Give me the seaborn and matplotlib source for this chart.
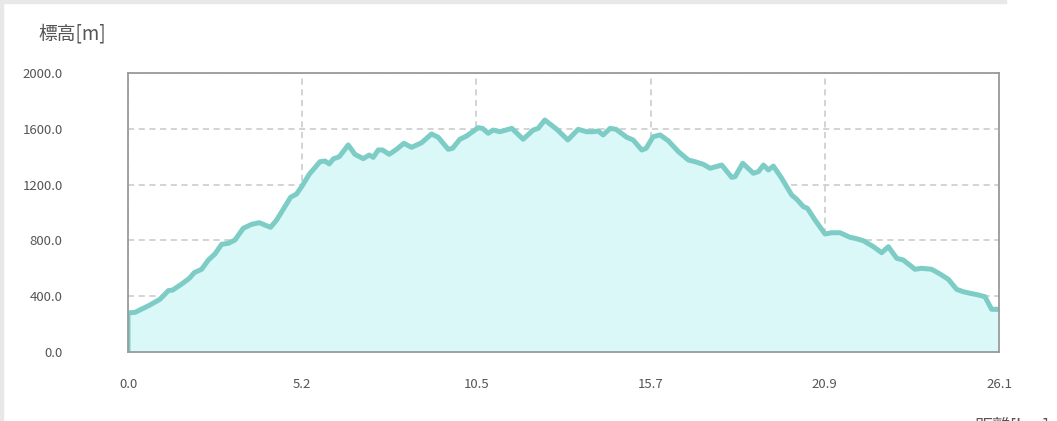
import numpy as np
import pandas as pd
import seaborn as sns
import matplotlib.pyplot as plt
from matplotlib.patches import Rectangle

# distance [km] and elevation [m]
dist = [0.0, 0.0, 0.21, 0.66, 0.96, 1.21, 1.34, 1.61, 1.84, 1.99, 2.21, 2.41, 2.61,
        2.81, 3.01, 3.21, 3.46, 3.71, 3.94, 4.11, 4.28, 4.46, 4.66, 4.88, 5.06,
        5.21, 5.44, 5.76, 5.91, 6.04, 6.16, 6.34, 6.61, 6.81, 7.06, 7.24, 7.36,
        7.51, 7.64, 7.84, 8.06, 8.28, 8.51, 8.81, 9.11, 9.31, 9.61, 9.74, 9.96,
        10.16, 10.51, 10.64, 10.81, 10.96, 11.16, 11.52, 11.86, 12.16, 12.31,
        12.51, 12.87, 13.20, 13.51, 13.77, 13.96, 14.11, 14.26, 14.47, 14.65,
        14.97, 15.16, 15.42, 15.55, 15.76, 15.97, 16.21, 16.52, 16.82, 17.02,
        17.27, 17.47, 17.82, 18.12, 18.22, 18.45, 18.77, 18.92, 19.07, 19.22,
        19.37, 19.62, 19.92, 20.07, 20.27, 20.39, 20.62, 20.92, 21.12, 21.37,
        21.67, 21.82, 22.07, 22.37, 22.62, 22.82, 23.07, 23.27, 23.62, 23.82,
        24.12, 24.37, 24.62, 24.87, 25.07, 25.27, 25.52, 25.72, 25.92, 26.07,
        26.13]
elev = [0, 280, 284, 337, 378, 440, 444, 487, 528, 569, 593, 659, 703,
        772, 779, 803, 887, 915, 927, 910, 894, 946, 1023, 1109, 1133,
        1185, 1274, 1364, 1369, 1348, 1384, 1400, 1484, 1417, 1386, 1412, 1395,
        1448, 1448, 1417, 1453, 1496, 1467, 1500, 1563, 1539, 1453, 1460, 1525,
        1548, 1608, 1603, 1568, 1591, 1579, 1603, 1525, 1591, 1603,
        1663, 1596, 1520, 1596, 1579, 1579, 1584, 1556, 1603, 1596,
        1539, 1520, 1448, 1460, 1543, 1556, 1515, 1436, 1376, 1364,
        1345, 1317, 1340, 1252, 1257, 1353, 1281, 1293, 1340, 1305,
        1333, 1245, 1125, 1095, 1042, 1030, 946, 846, 855, 855,
        822, 815, 798, 755, 712, 755, 672, 659, 593, 600,
        593, 559, 521, 449, 432, 421, 409, 396, 306, 306,
        306]

x_max = 26.14
x_ticks = [0.0, 5.228, 10.456, 15.684, 20.912, 26.14]
x_labels = ["0.0", "5.2", "10.5", "15.7", "20.9", "26.1"]
y_ticks = [0, 400, 800, 1200, 1600, 2000]

df = pd.DataFrame({'dist': dist, 'elev': elev})

sns.set_style("white")
plt.rcParams['font.family'] = ['Noto Sans CJK JP', 'DejaVu Sans']

fig = plt.figure(figsize=(10.57, 4.21), dpi=100)
ax = fig.add_axes([0.1211, 0.1639, 0.8240, 0.6627])

ax.fill_between(df['dist'], df['elev'], 0, color='#dbf8f8', lw=0)
sns.lineplot(data=df, x='dist', y='elev', ax=ax, estimator=None, sort=False,
             color='#7dcdc6', lw=3.6, solid_joinstyle='round', solid_capstyle='round')

ax.set_xlim(0, x_max)
ax.set_ylim(0, 2000)
ax.set_xticks(x_ticks)
ax.set_xticklabels(x_labels)
ax.set_yticks(y_ticks)
ax.set_yticklabels([f"{v:.1f}" for v in y_ticks])
ax.set_xlabel("")
ax.set_ylabel("")

ax.grid(True, color='#c8c8c8', linestyle=(0, (4, 3)), lw=1.1)
for s in ax.spines.values():
    s.set_color('#9a9a9a')
    s.set_linewidth(1.3)
ax.tick_params(axis='both', length=0, labelsize=9.5, labelcolor='#555555')
ax.tick_params(axis='y', pad=47)
ax.tick_params(axis='x', pad=19)

fig.text(0.036, 0.92, "標高[m]", fontsize=13.5, color='#555555', va='center')
# x-axis title sits mostly below the picture edge, as in the original
fig.text(0.922, 0.011, "距離[km]", fontsize=13, color='#555555', va='top')

# light frame on left and top edge
fig.patches.append(Rectangle((0, 0), 3 / 1057, 1, transform=fig.transFigure,
                             color='#e8e8e8', zorder=0))
fig.patches.append(Rectangle((0, 1 - 3 / 421), 1006 / 1057, 3 / 421,
                             transform=fig.transFigure, color='#e8e8e8', zorder=0))

fig.savefig("out.png", dpi=100)
